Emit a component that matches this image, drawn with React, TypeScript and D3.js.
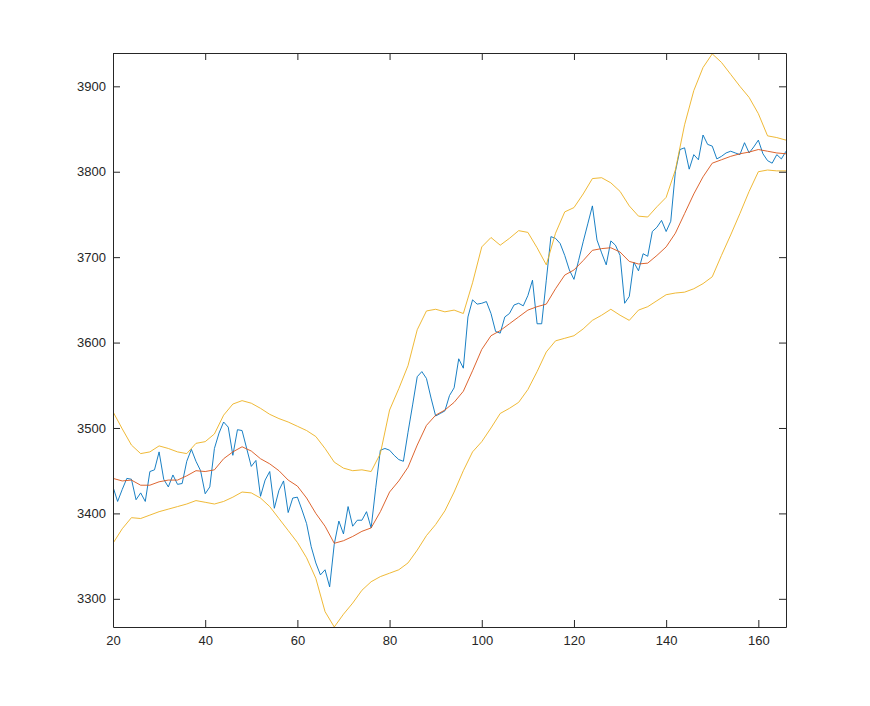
import React, { useRef, useEffect } from 'react';
import { select, scaleLinear, line, axisBottom, axisLeft, axisTop, axisRight } from 'd3';

// first sample sits at x = 20, one value per step
const firstIndex = 20;

const closeValues = [
    3431, 3414, 3428, 3441, 3440, 3416, 3424, 3414, 3449, 3451,
    3472, 3440, 3431, 3445, 3434, 3435, 3461, 3475, 3461, 3450,
    3423, 3431, 3476, 3494, 3507, 3501, 3468, 3498, 3497, 3476,
    3455, 3462, 3420, 3439, 3449, 3406, 3427, 3438, 3401, 3418,
    3419, 3404, 3388, 3361, 3342, 3328, 3334, 3314, 3364, 3391,
    3376, 3408, 3385, 3392, 3392, 3402, 3383, 3430, 3474, 3476,
    3474, 3468, 3463, 3461, 3495, 3527, 3560, 3566, 3558, 3535,
    3514, 3517, 3520, 3538, 3547, 3581, 3570, 3630, 3650, 3645,
    3646, 3648, 3634, 3613, 3611, 3630, 3634, 3644, 3646, 3643,
    3655, 3673, 3622, 3622, 3673, 3724, 3722, 3716, 3702, 3685,
    3674, 3696, 3718, 3739, 3760, 3720, 3705, 3691, 3719, 3714,
    3702, 3646, 3654, 3694, 3684, 3704, 3701, 3730, 3735, 3743,
    3730, 3742, 3800, 3826, 3828, 3803, 3820, 3814, 3843, 3832,
    3830, 3815, 3818, 3822, 3824, 3822, 3820, 3834, 3822, 3829,
    3837, 3821, 3813, 3810, 3820, 3815, 3824
];

// band readings were taken every second step
const bandIndex = [
    20, 22, 24, 26, 28, 30, 32, 34, 36, 38, 40, 42, 44, 46, 48, 50, 52, 54, 56,
    58, 60, 62, 64, 66, 68, 70, 72, 74, 76, 78, 80, 82, 84, 86, 88, 90, 92, 94,
    96, 98, 100, 102, 104, 106, 108, 110, 112, 114, 116, 118, 120, 122, 124, 126,
    128, 130, 132, 134, 136, 138, 140, 142, 144, 146, 148, 150, 152, 154, 156,
    158, 160, 162, 164, 166
];

const midValues = [
    3441, 3438, 3439, 3433, 3433, 3437, 3439, 3439, 3444, 3450, 3449, 3451, 3464,
    3472, 3478, 3473, 3464, 3458, 3450, 3439, 3432, 3418, 3400, 3385, 3365, 3368,
    3373, 3379, 3383, 3402, 3425, 3438, 3454, 3480, 3503, 3515, 3521, 3530, 3543,
    3567, 3592, 3608, 3614, 3622, 3630, 3638, 3642, 3645, 3663, 3679, 3685, 3696,
    3708, 3710, 3711, 3706, 3695, 3692, 3693, 3702, 3712, 3728, 3751, 3774, 3794,
    3810, 3814, 3818, 3821, 3823, 3826, 3824, 3822, 3821
];

const upperValues = [
    3519, 3499, 3480, 3470, 3472, 3479, 3476, 3472, 3470, 3482, 3484, 3493, 3515,
    3528, 3532, 3529, 3523, 3516, 3511, 3507, 3502, 3497, 3490, 3476, 3460, 3453,
    3450, 3451, 3449, 3470, 3521, 3546, 3573, 3615, 3637, 3639, 3636, 3638, 3634,
    3670, 3712, 3723, 3714, 3722, 3731, 3729, 3711, 3691, 3728, 3753, 3758, 3774,
    3792, 3793, 3787, 3777, 3760, 3748, 3747, 3759, 3770, 3802, 3855, 3895, 3922,
    3938, 3928, 3914, 3900, 3887, 3868, 3842, 3840, 3837
];

const lowerValues = [
    3365, 3382, 3395, 3394, 3398, 3402, 3405, 3408, 3411, 3415, 3413, 3411, 3414,
    3419, 3425, 3424, 3418, 3408, 3394, 3380, 3366, 3348, 3324, 3285, 3267, 3282,
    3295, 3310, 3320, 3326, 3330, 3334, 3342, 3357, 3374, 3387, 3403, 3425, 3450,
    3472, 3484, 3500, 3517, 3523, 3530, 3545, 3566, 3589, 3602, 3605, 3608, 3616,
    3626, 3632, 3639, 3632, 3626, 3638, 3642, 3649, 3656, 3658, 3659, 3663, 3669,
    3677, 3702, 3726, 3751, 3777, 3800, 3802, 3801, 3801
];

const xTicks = [20, 40, 60, 80, 100, 120, 140, 160];
const yTicks = [3300, 3400, 3500, 3600, 3700, 3800, 3900];

const xDomain: [number, number] = [20, 166];
const yDomain: [number, number] = [3267, 3939];

export default function App() {
    const chartRef = useRef<SVGSVGElement | null>(null);

    useEffect(() => {
        if (!chartRef.current) return;
        select(chartRef.current).selectAll("*").remove();

        const axisColor = "#262626";
        const margin = { top: 53, right: 84, bottom: 79, left: 113 };
        const outerWidth = 870;
        const outerHeight = 706;
        const width = outerWidth - margin.left - margin.right;
        const height = outerHeight - margin.top - margin.bottom;
        const tickLen = 7;

        const svg = select(chartRef.current)
            .attr("width", outerWidth)
            .attr("height", outerHeight)
            .append("g")
            .attr("transform", `translate(${margin.left},${margin.top})`);

        const xScale = scaleLinear().domain(xDomain).range([0, width]);
        const yScale = scaleLinear().domain(yDomain).range([height, 0]);

        svg.append("defs").append("clipPath")
            .attr("id", "plot-clip")
            .append("rect")
            .attr("width", width)
            .attr("height", height);

        const plot = svg.append("g").attr("clip-path", "url(#plot-clip)");

        const priceLine = line<number>()
            .x((_, i) => xScale(firstIndex + i))
            .y(d => yScale(d));

        const bandLine = line<number>()
            .x((_, i) => xScale(bandIndex[i]))
            .y(d => yScale(d));

        plot.append("path")
            .datum(closeValues)
            .attr("fill", "none")
            .attr("stroke", "#0072BD")
            .attr("stroke-width", 0.9)
            .attr("d", priceLine);

        plot.append("path")
            .datum(midValues)
            .attr("fill", "none")
            .attr("stroke", "#D95319")
            .attr("stroke-width", 0.9)
            .attr("d", bandLine);

        [upperValues, lowerValues].forEach(band => {
            plot.append("path")
                .datum(band)
                .attr("fill", "none")
                .attr("stroke", "#EDB120")
                .attr("stroke-width", 0.9)
                .attr("d", bandLine);
        });

        const styleAxis = (g: any) => {
            g.select(".domain").attr("stroke", axisColor);
            g.selectAll(".tick line").attr("stroke", axisColor);
            g.selectAll("text")
                .style("fill", axisColor)
                .style("font-family", "'Liberation Sans', Arial, Helvetica, sans-serif")
                .style("font-size", "13px");
        };

        svg.append("g")
            .attr("transform", `translate(0,${height})`)
            .call(axisBottom(xScale).tickValues(xTicks).tickSizeInner(-tickLen).tickSizeOuter(0).tickPadding(9).tickFormat(d => String(d)))
            .call(styleAxis);

        svg.append("g")
            .call(axisTop(xScale).tickValues(xTicks).tickSizeInner(-tickLen).tickSizeOuter(0).tickFormat(() => ""))
            .call(styleAxis);

        svg.append("g")
            .call(axisLeft(yScale).tickValues(yTicks).tickSizeInner(-tickLen).tickSizeOuter(0).tickPadding(7).tickFormat(d => String(d)))
            .call(styleAxis);

        svg.append("g")
            .attr("transform", `translate(${width},0)`)
            .call(axisRight(yScale).tickValues(yTicks).tickSizeInner(-tickLen).tickSizeOuter(0).tickFormat(() => ""))
            .call(styleAxis);

        svg.selectAll(".domain").attr("stroke-width", 1);
    }, []);

    return (
        <div style={{ position: "absolute", left: 0, top: 0, background: "#fff" }}>
            <svg ref={chartRef} style={{ display: "block" }}></svg>
        </div>
    );
}
